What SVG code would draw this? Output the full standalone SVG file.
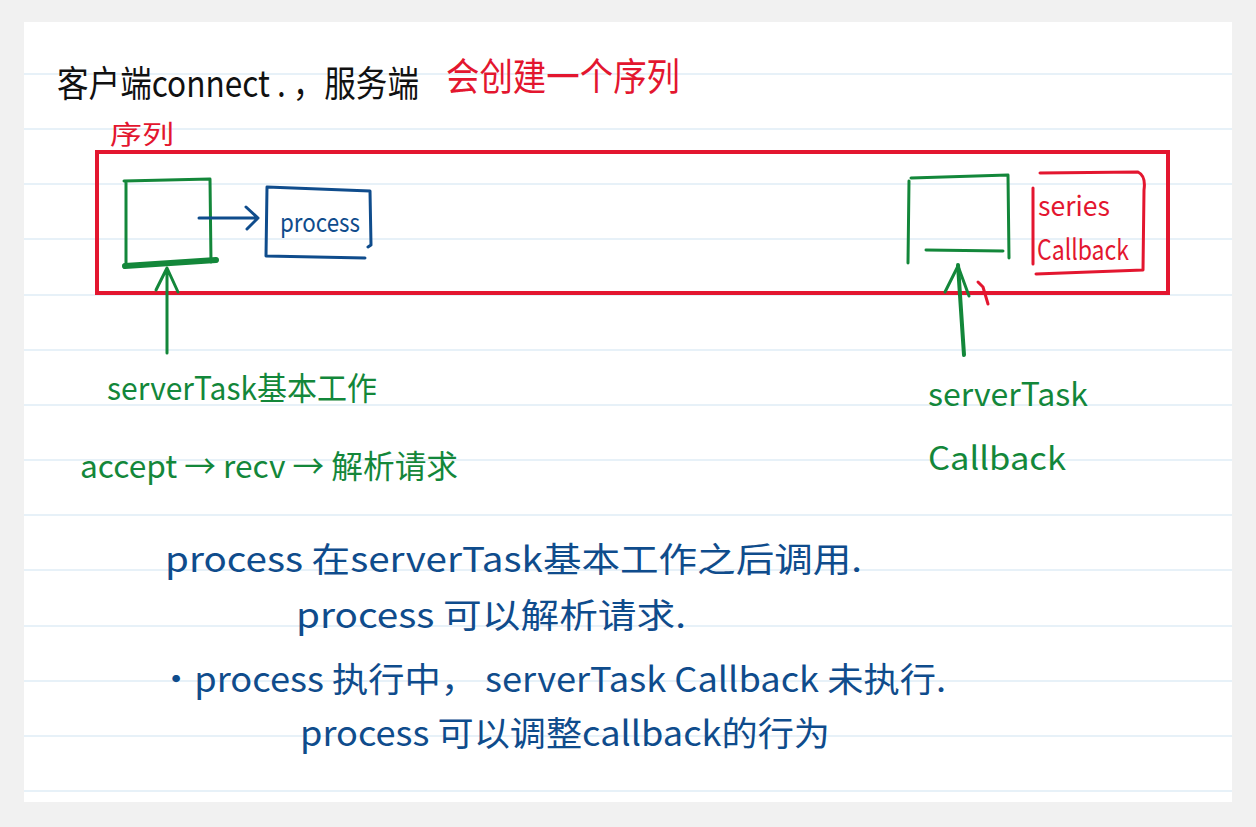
<svg xmlns="http://www.w3.org/2000/svg" width="1256" height="827" viewBox="0 0 1256 827">
<style>
.t{font-family:"Noto Sans CJK SC","Noto Sans",sans-serif;font-weight:400}
.g{fill:#13873a}.b{fill:#0f4c8c}.r{fill:#e3162f}.k{fill:#111}
.sg{fill:none;stroke:#13873a;stroke-width:3;stroke-linecap:round;stroke-linejoin:round}
.sb{fill:none;stroke:#0f4c8c;stroke-width:3;stroke-linecap:round;stroke-linejoin:round}
.sr{fill:none;stroke:#e3162f;stroke-width:3;stroke-linecap:round;stroke-linejoin:round}
.rule{stroke:#cfe3f1;stroke-width:1.2}
</style>
<rect width="1256" height="827" fill="#f1f1f1"/>
<rect x="24" y="22" width="1208" height="780" fill="#ffffff"/>
<g id="rules">
<line class="rule" x1="24" y1="74" x2="1232" y2="74"/>
<line class="rule" x1="24" y1="129" x2="1232" y2="129"/>
<line class="rule" x1="24" y1="184" x2="1232" y2="184"/>
<line class="rule" x1="24" y1="239" x2="1232" y2="239"/>
<line class="rule" x1="24" y1="295" x2="1232" y2="295"/>
<line class="rule" x1="24" y1="350" x2="1232" y2="350"/>
<line class="rule" x1="24" y1="405" x2="1232" y2="405"/>
<line class="rule" x1="24" y1="460" x2="1232" y2="460"/>
<line class="rule" x1="24" y1="515" x2="1232" y2="515"/>
<line class="rule" x1="24" y1="570" x2="1232" y2="570"/>
<line class="rule" x1="24" y1="626" x2="1232" y2="626"/>
<line class="rule" x1="24" y1="681" x2="1232" y2="681"/>
<line class="rule" x1="24" y1="736" x2="1232" y2="736"/>
<line class="rule" x1="24" y1="791" x2="1232" y2="791"/>
</g>
<g id="title">
<text class="t k" x="57" y="97" font-size="36" textLength="362" lengthAdjust="spacingAndGlyphs">客户端connect . ，服务端</text>
<text class="t r" x="446" y="90" font-size="38" textLength="234" lengthAdjust="spacingAndGlyphs">会创建一个序列</text>
</g>
<g id="series">
<text class="t r" x="110" y="144" font-size="26" textLength="64" lengthAdjust="spacingAndGlyphs">序列</text>
<rect x="97" y="152" width="1071" height="141" fill="none" stroke="#e3162f" stroke-width="4"/>
</g>
<g id="serverTaskBox">
<path class="sg" d="M124 181 L210 179 L211 262 M126 182 L126 266"/>
<path d="M125 266 L216 260" fill="none" stroke="#13873a" stroke-width="6" stroke-linecap="round"/>
</g>
<g id="processBox">
<path class="sb" d="M267 187 L370 191 L371 245 M267 187 L266 256 L365 258 M371 245 L368 247"/>
<text class="t b" x="280" y="232" font-size="26" textLength="80" lengthAdjust="spacingAndGlyphs">process</text>
</g>
<g id="callbackBox">
<path class="sg" d="M911 178 L1008 175 L1009 258 M909 181 L908 263 M926 250 L1003 251"/>
</g>
<g id="seriesCallbackBox">
<path class="sr" d="M1040 173 L1138 172 Q1146 176 1144 190 L1143 270 L1036 274 M1033 188 L1033 264"/>
<text class="t r" x="1038" y="216" font-size="27" textLength="72" lengthAdjust="spacingAndGlyphs">series</text>
<text class="t r" x="1037" y="260" font-size="28" textLength="92" lengthAdjust="spacingAndGlyphs">Callback</text>
</g>
<g id="connectors">
<path class="sb" d="M199 218 L258 218 M246 207 L258 218 L247 229"/>
<path class="sg" d="M167 353 L167 268 M156 290 L167 268 L178 292"/>
<path d="M964 355 L958 265" fill="none" stroke="#13873a" stroke-width="4" stroke-linecap="round"/>
<path class="sg" d="M945 292 L958 266 L969 296"/>
<path class="sr" d="M978 282 L983 287 L988 304" stroke-width="2"/>
</g>
<g id="labels">
<text class="t g" x="107" y="400" font-size="32" textLength="270" lengthAdjust="spacingAndGlyphs">serverTask基本工作</text>
<text class="t g" x="80" y="478" font-size="32" textLength="378" lengthAdjust="spacingAndGlyphs">accept → recv → 解析请求</text>
<text class="t g" x="928" y="406" font-size="32" textLength="160" lengthAdjust="spacingAndGlyphs">serverTask</text>
<text class="t g" x="928" y="470" font-size="32" textLength="138" lengthAdjust="spacingAndGlyphs">Callback</text>
</g>
<g id="notes">
<text class="t b" x="165" y="572" font-size="34" textLength="697" lengthAdjust="spacingAndGlyphs">process 在serverTask基本工作之后调用.</text>
<text class="t b" x="296" y="628" font-size="34" textLength="390" lengthAdjust="spacingAndGlyphs">process 可以解析请求.</text>
<text class="t b" x="158" y="692" font-size="34" textLength="788" lengthAdjust="spacingAndGlyphs">·process 执行中， serverTask Callback 未执行.</text>
<text class="t b" x="300" y="746" font-size="34" textLength="530" lengthAdjust="spacingAndGlyphs">process 可以调整callback的行为</text>
</g>
</svg>
